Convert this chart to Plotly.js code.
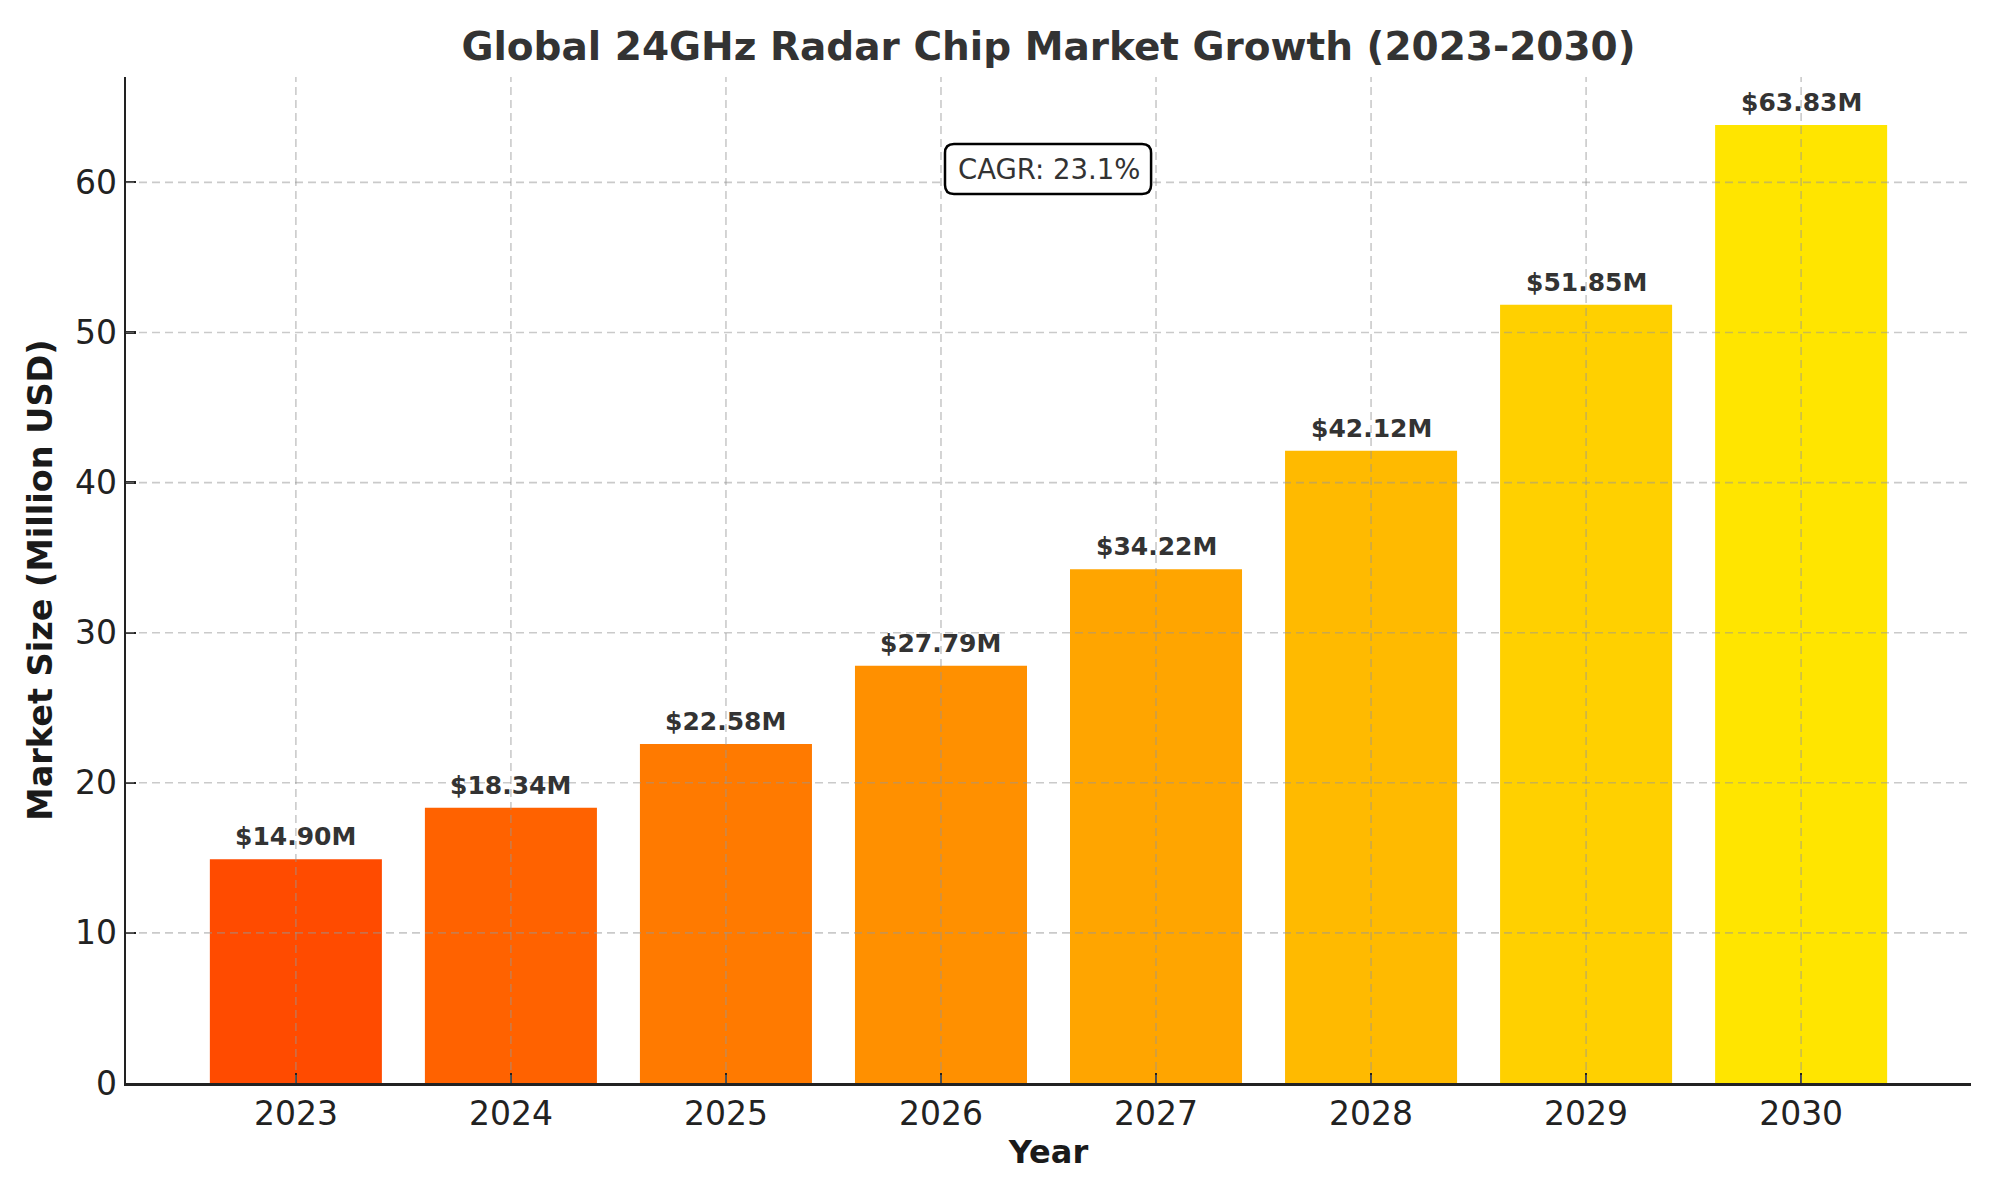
<!DOCTYPE html>
<html>
<head>
<meta charset="utf-8">
<script src="https://cdn.plot.ly/plotly-3.0.1.min.js"></script>
<style>html,body{margin:0;padding:0;background:#fff;}#chart{width:2000px;height:1200px;}</style>
</head>
<body>
<div id="chart"></div>
<script>
const years = ['2023', '2024', '2025', '2026', '2027', '2028', '2029', '2030'];
const marketSize = [14.90, 18.34, 22.58, 27.79, 34.22, 42.12, 51.85, 63.83];
const barColors = ['#FF4B00', '#FF6200', '#FF7A00', '#FF9000', '#FFA500', '#FFBA00', '#FFD000', '#FFE500'];
const yTicks = [0, 10, 20, 30, 40, 50, 60];
const cagrText = 'CAGR: 23.1%';

const FONT = 'DejaVu Sans, Verdana, sans-serif';

const trace = {
  type: 'bar',
  x: years,
  y: marketSize,
  marker: {color: barColors, line: {width: 0}},
  width: 0.8,
  hoverinfo: 'none'
};

const gridStyle = {color: 'rgba(150,150,150,0.5)', width: 1.6, dash: '8px,5px'};
const shapes = [];
yTicks.filter(v => v > 0).forEach(v => {
  shapes.push({type: 'line', xref: 'paper', yref: 'y', x0: 0, x1: 1, y0: v, y1: v, line: gridStyle, layer: 'above'});
});
years.forEach((c, i) => {
  shapes.push({type: 'line', xref: 'x', yref: 'paper', x0: i, x1: i, y0: 0, y1: 1, line: gridStyle, layer: 'above'});
});

// rounded box for CAGR annotation (paper coords)
const bx0 = 0.4439, bx1 = 0.5556, by0 = 0.8837, by1 = 0.9334;
const rx = 9 / 1845, ry = 9 / 1006;
const boxPath = `M ${bx0 + rx},${by0} L ${bx1 - rx},${by0} Q ${bx1},${by0} ${bx1},${by0 + ry} ` +
  `L ${bx1},${by1 - ry} Q ${bx1},${by1} ${bx1 - rx},${by1} L ${bx0 + rx},${by1} ` +
  `Q ${bx0},${by1} ${bx0},${by1 - ry} L ${bx0},${by0 + ry} Q ${bx0},${by0} ${bx0 + rx},${by0} Z`;
shapes.push({type: 'path', xref: 'paper', yref: 'paper', path: boxPath,
  fillcolor: '#ffffff', line: {color: '#000000', width: 2.5}, layer: 'above'});

const annotations = years.map((c, i) => ({
  x: i, y: marketSize[i], xref: 'x', yref: 'y',
  text: '$' + marketSize[i].toFixed(2) + 'M',
  showarrow: false, xanchor: 'center', yanchor: 'bottom', yshift: 6,
  font: {family: FONT, size: 25, color: '#333333', weight: 'bold'}
}));
annotations.push({
  x: 0.5, y: 0.9085, xref: 'paper', yref: 'paper',
  text: cagrText, showarrow: false, xanchor: 'center', yanchor: 'middle',
  font: {family: FONT, size: 27.5, color: '#333333'}
});

const layout = {
  width: 2000, height: 1200,
  paper_bgcolor: '#ffffff', plot_bgcolor: '#ffffff',
  margin: {l: 126, r: 29, t: 77, b: 117, pad: 0},
  showlegend: false,
  font: {family: FONT, color: '#222222'},
  title: {
    text: 'Global 24GHz Radar Chip Market Growth (2023-2030)',
    x: 0.5, xref: 'paper', xanchor: 'center',
    y: 1 - 46 / 1200, yref: 'container', yanchor: 'middle',
    font: {family: FONT, size: 39, color: '#333333', weight: 'bold'}
  },
  xaxis: {
    type: 'category',
    range: [-0.79, 7.79],
    showgrid: false, zeroline: false,
    showline: true, linecolor: '#222222', linewidth: 2.5,
    ticks: 'inside', ticklen: 10, tickwidth: 2.2, tickcolor: '#222222',
    tickfont: {family: FONT, size: 33, color: '#222222'},
    automargin: false,
    title: {text: 'Year', standoff: 9, font: {family: FONT, size: 32, color: '#1a1a1a', weight: 'bold'}}
  },
  yaxis: {
    range: [0, 67.02],
    tickvals: yTicks,
    ticktext: yTicks.map(String),
    showgrid: false, zeroline: false,
    showline: true, linecolor: '#222222', linewidth: 2.5,
    ticks: 'inside', ticklen: 10, tickwidth: 2.2, tickcolor: '#222222',
    tickfont: {family: FONT, size: 33, color: '#222222'},
    automargin: false,
    title: {text: 'Market Size (Million USD)', standoff: 12, font: {family: FONT, size: 33.5, color: '#1a1a1a', weight: 'bold'}}
  },
  shapes: shapes,
  annotations: annotations,
  bargap: 0.2
};

Plotly.newPlot('chart', [trace], layout, {displayModeBar: false, staticPlot: true});
</script>
</body>
</html>
